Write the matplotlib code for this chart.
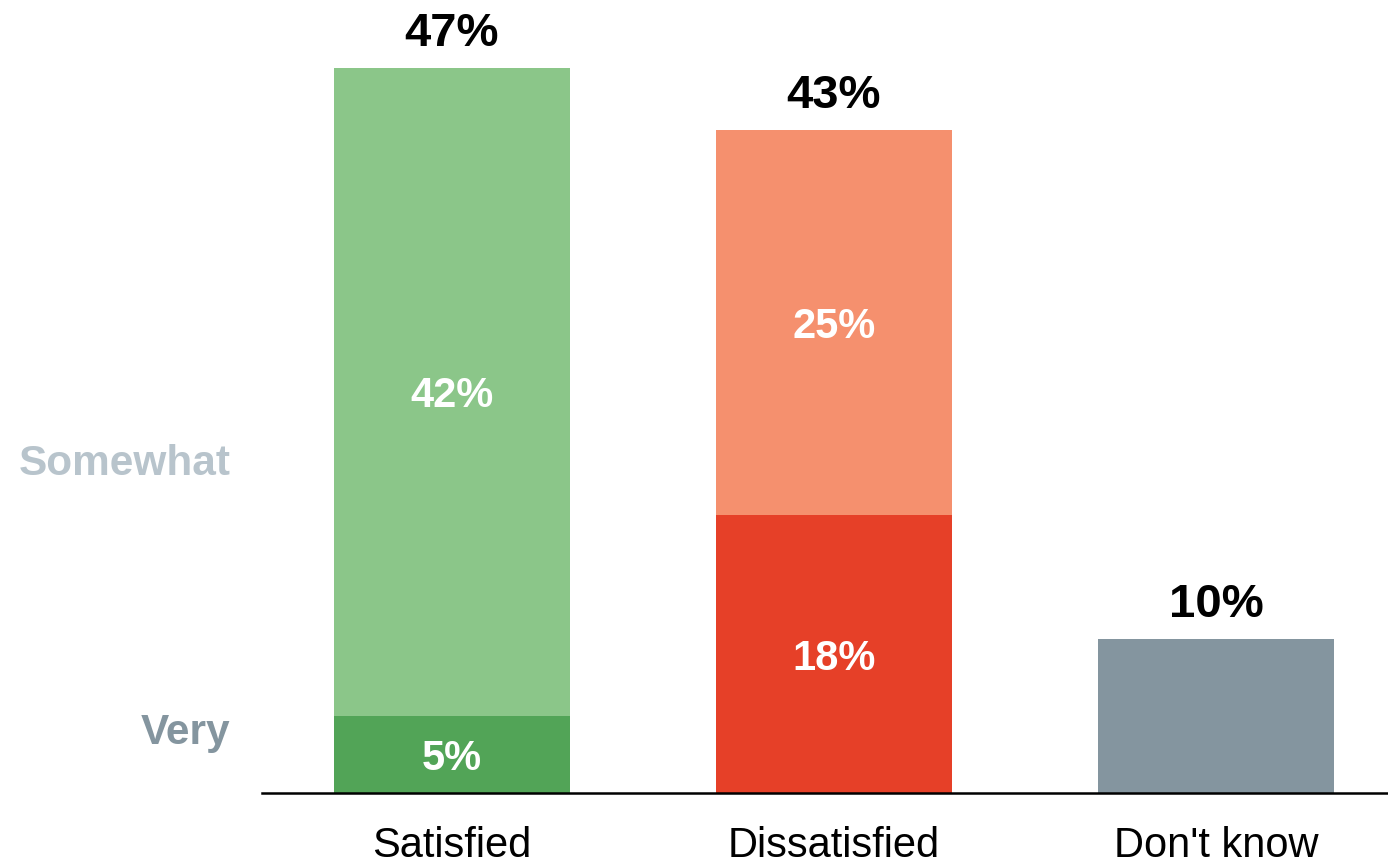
import matplotlib
matplotlib.use('Agg')
import matplotlib.pyplot as plt

plt.rcParams['font.family'] = ['Liberation Sans', 'DejaVu Sans']

# Data
categories = ['Satisfied', 'Dissatisfied', "Don't know"]
very = [5, 18, 10]
somewhat = [42, 25, 0]
totals = [47, 43, 10]

very_colors = ['#52a457', '#e64028', '#84959f']
somewhat_colors = ['#8bc689', '#f5906e', '#84959f']

fig = plt.figure(figsize=(13.88, 8.61), dpi=100)
ax = fig.add_axes([262 / 1388, 68 / 861, 1 - 262 / 1388, 793 / 861])

x = list(range(len(categories)))
width = 0.618
ax.bar(x, very, width=width, color=very_colors)
ax.bar(x, somewhat, width=width, bottom=very, color=somewhat_colors)

# Segment labels (white, inside)
for i in range(len(categories)):
    if i < 2:
        ax.text(i, very[i] / 2, f'{very[i]}%', ha='center', va='center_baseline',
                color='white', fontsize=30, fontweight='bold')
        ax.text(i, very[i] + somewhat[i] / 2, f'{somewhat[i]}%', ha='center',
                va='center_baseline', color='white', fontsize=30, fontweight='bold')
    ax.text(i, totals[i] + 0.75, f'{totals[i]}%', ha='center', va='bottom',
            color='black', fontsize=34, fontweight='bold')

# Row labels on the left
ax.text(-0.58, 4.2, 'Very', ha='right', va='center_baseline',
        color='#84959f', fontsize=30.5, fontweight='bold')
ax.text(-0.58, 21.6, 'Somewhat', ha='right', va='center_baseline',
        color='#b8c4cc', fontsize=30.5, fontweight='bold')

ax.set_xlim(-0.497, 2.45)
ax.set_ylim(0, 793 / 15.43)
ax.set_xticks(x)
ax.set_xticklabels(categories, fontsize=30)
ax.tick_params(axis='x', length=0, pad=24)
ax.set_yticks([])
for s in ['top', 'right', 'left']:
    ax.spines[s].set_visible(False)
ax.spines['bottom'].set_linewidth(1.8)
ax.spines['bottom'].set_color('black')

fig.savefig('out.png', dpi=100)
